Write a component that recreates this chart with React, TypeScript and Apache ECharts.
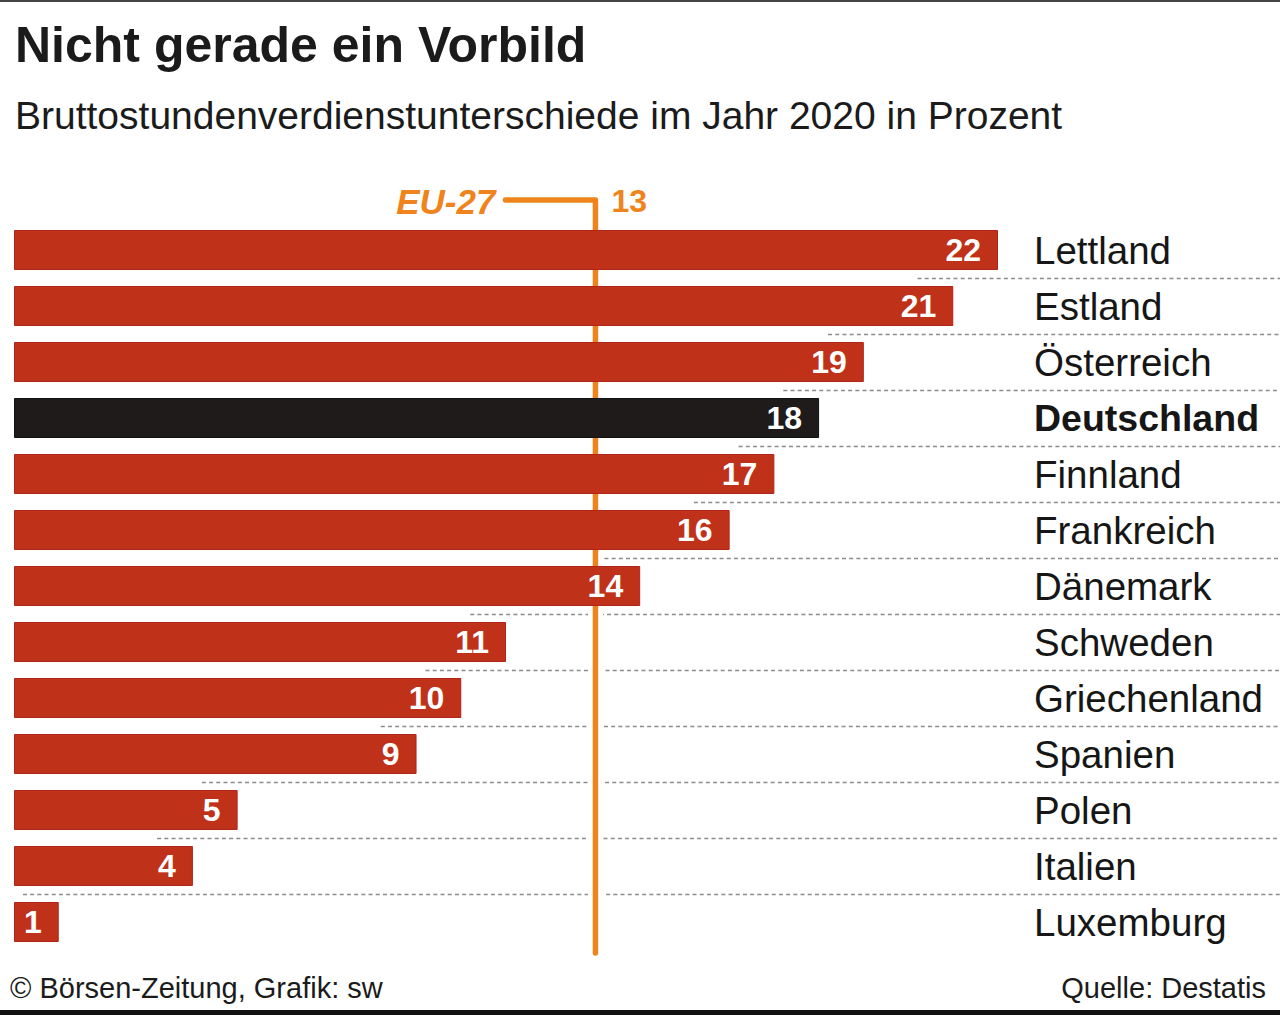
import React, { useEffect, useRef } from "react";
import * as echarts from "echarts";

const countries = [
  "Lettland",
  "Estland",
  "Österreich",
  "Deutschland",
  "Finnland",
  "Frankreich",
  "Dänemark",
  "Schweden",
  "Griechenland",
  "Spanien",
  "Polen",
  "Italien",
  "Luxemburg",
];
const values = [22, 21, 19, 18, 17, 16, 14, 11, 10, 9, 5, 4, 1];
const highlight = "Deutschland";
const euLabel = "EU-27";
const euValue = 13;
const titleText = "Nicht gerade ein Vorbild";
const subtitleText = "Bruttostundenverdienstunterschiede im Jahr 2020 in Prozent";
const sourceLeft = "© Börsen-Zeitung, Grafik: sw";
const sourceRight = "Quelle: Destatis";

const RED = "#C0311A";
const BLACK = "#1E1B1A";
const ORANGE = "#F0841C";
const FONT = "'Liberation Sans', Arial, sans-serif";

export default function App() {
  const ref = useRef<HTMLDivElement>(null);

  useEffect(() => {
    document.body.style.margin = "0";
    const chart = echarts.init(ref.current!, undefined, { renderer: "svg" });

    const dividerData = countries
      .slice(0, -1)
      .map((_, i) => [Math.max(0, values[i + 1] - 0.8), i]);

    const option: any = {
      animation: false,
      backgroundColor: "#ffffff",
      grid: { left: 14, right: 282, top: 222, height: 728, containLabel: false },
      xAxis: {
        type: "value",
        min: 0,
        max: 22,
        show: false,
      },
      yAxis: {
        type: "category",
        inverse: true,
        position: "right",
        data: countries,
        axisLine: { show: false },
        axisTick: { show: false },
        splitLine: { show: false },
        axisLabel: {
          margin: 36,
          align: "left",
          formatter: (v: string) => (v === highlight ? `{b|${v}}` : `{n|${v}}`),
          rich: {
            n: { fontSize: 38.5, fontFamily: FONT, color: "#161616" },
            b: { fontSize: 37.5, fontFamily: FONT, color: "#161616", fontWeight: "bold" },
          },
        },
      },
      graphic: [
        { type: "rect", shape: { x: 0, y: 0, width: 1280, height: 2 }, style: { fill: "#444" } },
        { type: "rect", shape: { x: 0, y: 1010, width: 1280, height: 5 }, style: { fill: "#111" } },
        {
          type: "text",
          x: 15,
          y: 45,
          style: {
            text: titleText,
            fontSize: 50,
            fontWeight: "bold",
            fontFamily: FONT,
            fill: "#1b1b1b",
            textVerticalAlign: "middle",
          },
        },
        {
          type: "text",
          x: 15,
          y: 115,
          style: {
            text: subtitleText,
            fontSize: 39,
            fontFamily: FONT,
            fill: "#1b1b1b",
            textVerticalAlign: "middle",
          },
        },
        {
          type: "text",
          x: 10,
          y: 988,
          style: {
            text: sourceLeft,
            fontSize: 29,
            fontFamily: FONT,
            fill: "#1b1b1b",
            textVerticalAlign: "middle",
          },
        },
        {
          type: "text",
          x: 1266,
          y: 988,
          style: {
            text: sourceRight,
            fontSize: 29,
            fontFamily: FONT,
            fill: "#1b1b1b",
            textAlign: "right",
            textVerticalAlign: "middle",
          },
        },
      ],
      series: [
        {
          type: "custom",
          name: "dividers",
          z: 1,
          silent: true,
          encode: { x: 0, y: 1 },
          data: dividerData,
          renderItem: (params: any, api: any) => {
            const p = api.coord([api.value(0), api.value(1)]);
            const half = api.size([0, 1])[1] / 2;
            const y = Math.round(p[1] + half) + 0.5;
            return {
              type: "line",
              shape: { x1: p[0], y1: y, x2: api.getWidth(), y2: y },
              style: { stroke: "#8c8c8c", lineWidth: 1.6, lineDash: [4, 3.2] },
            };
          },
        },
        {
          type: "custom",
          name: "eu",
          z: 2,
          silent: true,
          encode: { x: 0, y: 1 },
          data: [[euValue, 0]],
          renderItem: (params: any, api: any) => {
            const cs = params.coordSys;
            const x = api.coord([api.value(0), 0])[0];
            const top = cs.y - 22;
            const bottom = cs.y + cs.height + 3;
            return {
              type: "group",
              children: [
                {
                  type: "line",
                  shape: { x1: x, y1: top, x2: x, y2: bottom },
                  style: { stroke: "#ffffff", lineWidth: 15 },
                },
                {
                  type: "polyline",
                  shape: { points: [[x - 90, top], [x, top], [x, bottom]] },
                  style: {
                    stroke: ORANGE,
                    lineWidth: 5.5,
                    fill: "none",
                    lineJoin: "round",
                    lineCap: "round",
                  },
                },
                {
                  type: "text",
                  style: {
                    x: x - 100,
                    y: top + 1,
                    text: euLabel,
                    textAlign: "right",
                    textVerticalAlign: "middle",
                    fontSize: 35,
                    fontWeight: "bold",
                    fontStyle: "italic",
                    fontFamily: FONT,
                    fill: ORANGE,
                  },
                },
                {
                  type: "text",
                  style: {
                    x: x + 16,
                    y: top + 1,
                    text: String(api.value(0)),
                    textAlign: "left",
                    textVerticalAlign: "middle",
                    fontSize: 32,
                    fontWeight: "bold",
                    fontFamily: FONT,
                    fill: ORANGE,
                  },
                },
              ],
            };
          },
        },
        {
          type: "bar",
          name: "values",
          z: 3,
          barWidth: 40,
          data: values.map((v, i) => ({
            value: v,
            itemStyle: {
              color: countries[i] === highlight ? BLACK : RED,
              borderColor: countries[i] === highlight ? "#111" : "#B2231A",
              borderWidth: 1,
            },
          })),
          label: {
            show: true,
            position: "insideRight",
            distance: 17,
            color: "#ffffff",
            fontSize: 32,
            fontWeight: "bold",
            fontFamily: FONT,
          },
        },
      ],
    };

    chart.setOption(option);
    return () => chart.dispose();
  }, []);

  return <div ref={ref} style={{ width: 1280, height: 1015 }} />;
}
